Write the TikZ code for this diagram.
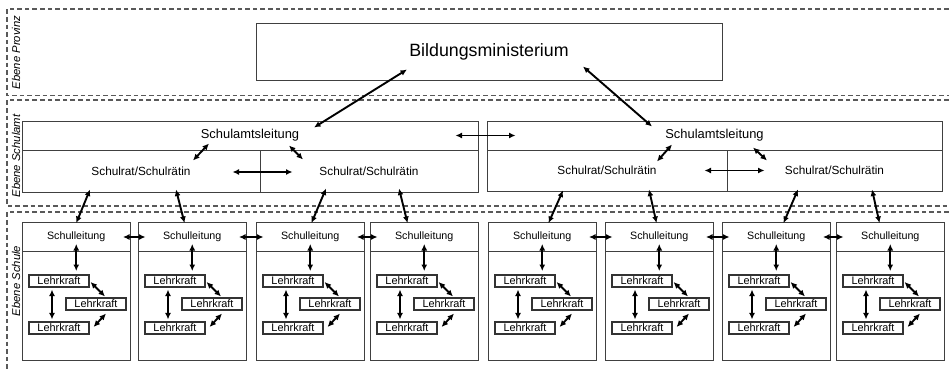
\documentclass[tikz,border=0pt]{standalone}
\usepackage{fontspec}
\setmainfont{Liberation Sans}
\usetikzlibrary{arrows.meta}
\begin{document}
\begin{tikzpicture}[x=1pt,y=-1pt,
  box/.style={draw=black!75, line width=1pt, inner sep=0pt},
  lkbox/.style={draw=black!80, line width=1.1pt, inner sep=0pt, minimum width=60pt, minimum height=12pt, font=\fontsize{10.9}{12}\selectfont},
  arr/.style={line width=1.9pt, {Latex[length=6.5pt,width=6pt]}-{Latex[length=6.5pt,width=6pt]}},
  dashline/.style={draw=black!65, line width=1.1pt, dash pattern=on 4.6pt off 3pt},
  lbl/.style={rotate=90, inner sep=0pt, font=\itshape\fontsize{11.3}{12}\selectfont},
  fmin/.style={font=\fontsize{17.8}{20}\selectfont},
  famt/.style={font=\fontsize{12.9}{14}\selectfont},
  frat/.style={font=\fontsize{11.8}{13}\selectfont},
  fsl/.style={font=\fontsize{10.7}{12}\selectfont}]
\useasboundingbox (0,0) rectangle (949,369);

% level regions
\draw[dashline] (949,9) -- (7,9) -- (7,95.5) -- (949,95.5);
\draw[dashline] (949,100) -- (7,100) -- (7,206) -- (949,206);
\draw[dashline] (949,212) -- (7,212) -- (7,369);
\node[lbl] (lp) at (16,52.5) {Ebene Provinz};
\node[lbl] (la) at (16,156) {Ebene Schulamt};
\node[lbl] (ls) at (16,281) {Ebene Schule};

% ministry
\node[box, fmin, minimum width=466pt, minimum height=56pt] (min) at (489,52) {Bildungsministerium};

% school offices
\node[box, famt, minimum width=456pt, minimum height=29pt] (amtL) at (250,135.5) {Schulamtsleitung};
\node[box, frat, minimum width=238pt, minimum height=42pt] (ratLL) at (141,171) {Schulrat/Schulrätin};
\node[box, frat, minimum width=218pt, minimum height=42pt] (ratLR) at (369,171) {Schulrat/Schulrätin};
\node[box, famt, minimum width=455pt, minimum height=29pt] (amtR) at (714.5,135.5) {Schulamtsleitung};
\node[box, frat, minimum width=240pt, minimum height=41pt] (ratRL) at (607,170.5) {Schulrat/Schulrätin};
\node[box, frat, minimum width=215pt, minimum height=41pt] (ratRR) at (834.5,170.5) {Schulrat/Schulrätin};

% schools
\foreach \i/\x in {1/22,2/138,3/256,4/370,5/488,6/605,7/722,8/836}{
  \begin{scope}[shift={(\x,222)}]
    \node[box, minimum width=107.5pt, minimum height=138pt, anchor=north west] (b\i) at (0,0) {};
    \node[box, fsl, minimum width=107.5pt, minimum height=29pt, anchor=north west] (sl\i) at (0,0) {Schulleitung};
    \node[lkbox] (lka\i) at (37,59) {Lehrkraft};
    \node[lkbox] (lkb\i) at (74,82) {Lehrkraft};
    \node[lkbox] (lkc\i) at (37,106) {Lehrkraft};
  \end{scope}
  \draw[arr] ([yshift=8pt]sl\i.south) -- ([yshift=-19pt]sl\i.south);
  \draw[arr] ([xshift=-7pt,yshift=-2pt]lka\i.south) -- ([xshift=-7pt,yshift=2pt]lkc\i.north);
  \draw[arr] ([xshift=1pt,yshift=-1pt]lka\i.east) -- ([xshift=9pt,yshift=1pt]lkb\i.north);
  \draw[arr] ([xshift=10pt,yshift=-3pt]lkb\i.south) -- ([xshift=4pt,yshift=1pt]lkc\i.east);
}

% arrows between schools
\foreach \a/\b in {1/2,2/3,3/4,5/6,6/7,7/8}
  \draw[arr] ([xshift=-7.5pt]sl\a.east) -- ([xshift=7.5pt]sl\b.west);

% ministry to school offices
\draw[arr] ([xshift=-82pt,yshift=11pt]min.south) -- ([xshift=64pt,yshift=-7pt]amtL.north);
\draw[arr] ([xshift=94pt,yshift=14pt]min.south) -- ([xshift=-62.5pt,yshift=-6pt]amtR.north);

% inside school offices
\draw[arr] ([xshift=-57pt,yshift=-10pt]amtL.south) -- ([xshift=-41pt,yshift=7pt]amtL.south);
\draw[arr] ([xshift=39pt,yshift=5pt]amtL.south) -- ([xshift=53pt,yshift=-9pt]amtL.south);
\draw[arr] ([xshift=-28pt,yshift=-1pt]ratLL.east) -- ([xshift=32pt,yshift=-1pt]ratLL.east);
\draw[arr] ([xshift=-57.5pt,yshift=-11pt]amtR.south) -- ([xshift=-42.5pt,yshift=6pt]amtR.south);
\draw[arr] ([xshift=38.5pt,yshift=3pt]amtR.south) -- ([xshift=52.5pt,yshift=-10pt]amtR.south);
\draw[arr] ([xshift=-23pt]ratRL.east) -- ([xshift=37pt]ratRL.east);
\draw[arr] ([xshift=-23pt]amtL.east) -- ([xshift=37pt]amtL.east);

% school offices to schools
\foreach \r/\rx/\ry/\i/\sx in {ratLL/-51/3/1/0, ratLL/35/3/2/-7.75, ratLR/-43/4/3/1.25, ratLR/30/4/4/-16.75, ratRL/-44/1/5/6.25, ratRL/42/2/6/-2.75, ratRR/-36.5/2/7/7.25, ratRR/37.5/2/8/-10.75}
  \draw[arr] ([xshift=\rx pt,yshift=\ry pt]\r.south) -- ([xshift=\sx pt,yshift=-1pt]sl\i.north);
\end{tikzpicture}
\end{document}
